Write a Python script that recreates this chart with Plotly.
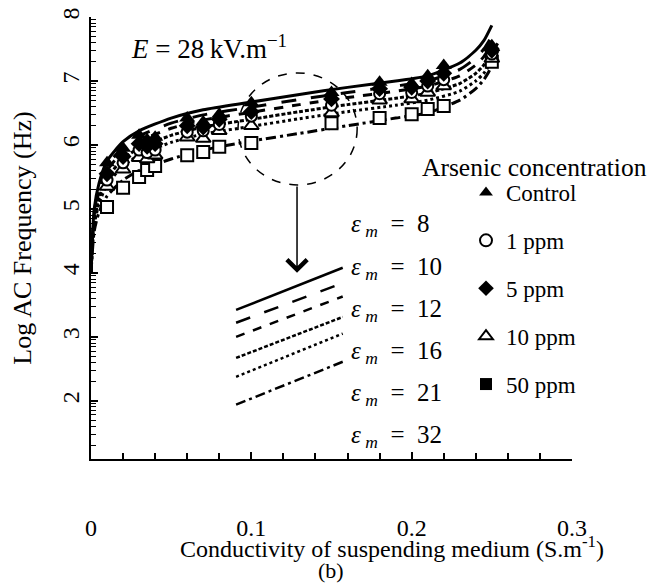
import numpy as np
import plotly.graph_objects as go

# ---------------- data ----------------
# model curves (log10 of crossover frequency) for several medium permittivities
curve_x = [0, 0.002, 0.005, 0.01, 0.02, 0.03, 0.05, 0.07, 0.1, 0.13, 0.16, 0.19, 0.21, 0.23, 0.24, 0.245, 0.25, 0.254]
eps8  = [4.0, 5.0, 5.4, 5.75, 6.05, 6.22, 6.42, 6.55, 6.67, 6.79, 6.90, 7.00, 7.08, 7.28, 7.48, 7.63, 7.87, None]
eps10 = [4.0, 4.95, 5.33, 5.67, 5.97, 6.14, 6.34, 6.47, 6.59, 6.71, 6.82, 6.92, 7.00, 7.18, 7.36, 7.50, 7.70, None]
eps12 = [4.0, 4.9, 5.27, 5.60, 5.90, 6.06, 6.26, 6.39, 6.51, 6.63, 6.74, 6.84, 6.92, 7.08, 7.25, 7.38, 7.58, None]
eps16 = [4.0, 4.82, 5.17, 5.48, 5.78, 5.95, 6.15, 6.28, 6.40, 6.52, 6.63, 6.73, 6.81, 6.96, 7.12, 7.25, 7.45, 7.60]
eps21 = [4.0, 4.75, 5.08, 5.38, 5.67, 5.84, 6.04, 6.17, 6.29, 6.41, 6.52, 6.62, 6.70, 6.84, 7.00, 7.12, 7.32, 7.48]
eps32 = [4.0, 4.65, 4.95, 5.20, 5.45, 5.60, 5.78, 5.92, 6.06, 6.18, 6.30, 6.42, 6.50, 6.70, 6.88, 7.02, 7.22, 7.35]

# measured points (log10 frequency)
meas_x  = [0.01, 0.02, 0.03, 0.035, 0.04, 0.06, 0.07, 0.08, 0.1, 0.15, 0.18, 0.2, 0.21, 0.22, 0.25]
control = [5.72, 5.95, 6.15, 6.08, 6.12, 6.42, 6.36, 6.48, 6.66, 6.82, 6.98, 6.96, 7.08, 7.24, 7.55]
ppm5    = [5.55, 5.82, 6.02, 5.98, 6.02, 6.30, 6.28, 6.40, 6.52, 6.72, 6.88, 6.90, 7.00, 7.12, 7.48]
ppm1    = [5.45, 5.72, 5.92, 5.88, 5.92, 6.20, 6.22, 6.32, 6.45, 6.62, 6.80, 6.82, 6.92, 7.02, 7.42]
ppm10   = [5.35, 5.62, 5.80, 5.78, 5.84, 6.12, 6.10, 6.22, 6.30, 6.50, 6.70, 6.72, 6.82, 6.92, 7.35]
ppm50   = [5.03, 5.33, 5.50, 5.61, 5.67, 5.84, 5.89, 5.97, 6.03, 6.34, 6.42, 6.48, 6.56, 6.61, 7.30]

# magnified inset segments
inset_x = [0.0905, 0.157]
inset8  = [3.42, 4.08]
inset10 = [3.22, 3.84]
inset12 = [3.00, 3.63]
inset16 = [2.67, 3.31]
inset21 = [2.375, 3.05]
inset32 = [1.94, 2.61]

eps_labels = ["8", "10", "12", "16", "21", "32"]
y_ticks = [2, 3, 4, 5, 6, 7, 8]
x_ticks = [0, 0.1, 0.2, 0.3]
x_ticktext = ["0", "0.1", "0.2", "0.3"]

FONT = "Liberation Serif, Times New Roman, serif"

fig = go.Figure()

styles = [
    (eps8, inset8, "solid", 3),
    (eps10, inset10, "longdash", 3),
    (eps12, inset12, "dash", 3),
    (eps16, inset16, "4px,2px", 3),
    (eps21, inset21, "dot", 3),
    (eps32, inset32, "10px,4px,3px,4px", 3),
]
for (cy, iy, dash, w), lab in zip(styles, eps_labels):
    fig.add_trace(go.Scatter(x=curve_x, y=cy, mode="lines", showlegend=False,
                             line=dict(color="black", width=w, dash=dash, shape="spline", smoothing=0.6),
                             name="εm = " + lab))
    fig.add_trace(go.Scatter(x=inset_x, y=iy, mode="lines", showlegend=False,
                             line=dict(color="black", width=2.5, dash=dash), name="inset " + lab))

# measured series
fig.add_trace(go.Scatter(x=meas_x, y=ppm50, mode="markers", name="50 ppm", legendgroup="g50",
                         showlegend=False,
                         marker=dict(symbol="square", size=12, color="white", line=dict(color="black", width=2))))
fig.add_trace(go.Scatter(x=meas_x, y=ppm10, mode="markers", name="10 ppm", legendgroup="g10",
                         marker=dict(symbol="triangle-up", size=13, color="white", line=dict(color="black", width=2))))
fig.add_trace(go.Scatter(x=meas_x, y=ppm1, mode="markers", name="1 ppm", legendgroup="g1",
                         marker=dict(symbol="circle", size=11, color="white", line=dict(color="black", width=2))))
fig.add_trace(go.Scatter(x=meas_x, y=ppm5, mode="markers", name="5 ppm", legendgroup="g5",
                         marker=dict(symbol="diamond", size=13, color="black")))
fig.add_trace(go.Scatter(x=meas_x, y=control, mode="markers", name="Control", legendgroup="gc",
                         marker=dict(symbol="triangle-up", size=14, color="black")))
fig.add_trace(go.Scatter(x=[None], y=[None], mode="markers", name="50 ppm", legendgroup="g50",
                         marker=dict(symbol="square", size=11, color="black")))

# legend ordering
order = {"Control": 1, "1 ppm": 2, "5 ppm": 3, "10 ppm": 4, "50 ppm": 5}
for tr in fig.data:
    if tr.name in order:
        tr.legendrank = order[tr.name]

# dashed circle & arrow
fig.add_shape(type="circle", xref="x", yref="y", x0=0.0917, x1=0.166, y0=5.375, y1=7.125,
              line=dict(color="black", width=1.5, dash="dash"))
fig.add_annotation(x=0.1285, y=4.0, ax=0.1285, ay=5.375, xref="x", yref="y", axref="x", ayref="y",
                   showarrow=True, arrowhead=4, arrowsize=2.6, arrowwidth=1.5, arrowcolor="black", text="")

# eps labels
ys = [0.529, 0.432, 0.337, 0.242, 0.145, 0.050]
for lab, yy in zip(eps_labels, ys):
    fig.add_annotation(x=(349 - 91) / 481, y=yy, xref="paper", yref="paper", xanchor="left", yanchor="middle",
                       showarrow=False, font=dict(family=FONT, size=25, color="black"),
                       text="<i>ε</i><sub> <i>m</i></sub>\u00a0\u00a0=\u00a0\u00a0" + lab)

fig.add_annotation(x=(129 - 91) / 481, y=(459 - 47) / 442, xref="paper", yref="paper", xanchor="left",
                   yanchor="middle", showarrow=False, font=dict(family=FONT, size=27, color="black"),
                   text="<i>E</i> = 28\u2009kV.m<sup>\u22121</sup>")
fig.add_annotation(x=(420 - 91) / 481, y=(459 - 167) / 442, xref="paper", yref="paper", xanchor="left",
                   yanchor="middle", showarrow=False, font=dict(family=FONT, size=25.5, color="black"),
                   text="Arsenic concentration")
fig.add_annotation(x=(178 - 91) / 481, y=(459 - 547) / 442, xref="paper", yref="paper", xanchor="left",
                   yanchor="middle", showarrow=False, font=dict(family=FONT, size=24, color="black"),
                   text="Conductivity of suspending medium (S.m<sup>-1</sup>)")
fig.add_annotation(x=(331 - 91) / 481, y=(459 - 570) / 442, xref="paper", yref="paper", xanchor="center",
                   yanchor="middle", showarrow=False, font=dict(family=FONT, size=22, color="black"),
                   text="(b)")

minor_y = [n + np.log10(k) for n in range(1, 8) for k in range(2, 10)]
minor_y = [float(v) for v in minor_y if v > 1.09]

# the page body adds an 8px offset, so the figure is laid out 8px smaller/left/up
fig.update_layout(
    width=650, height=579,
    margin=dict(l=83, r=86, t=9, b=128),
    paper_bgcolor="white", plot_bgcolor="white",
    font=dict(family=FONT, size=24, color="black"),
    legend=dict(x=(466 - 91) / 481, y=(459 - 171) / 442, xanchor="left", yanchor="top",
                font=dict(family=FONT, size=23, color="black"), tracegroupgap=15,
                bgcolor="rgba(0,0,0,0)", itemsizing="constant", traceorder="grouped"),
    xaxis=dict(range=[0, 0.3], tickvals=x_ticks, ticktext=x_ticktext, ticks="inside", ticklen=7,
               tickwidth=1.5, tickcolor="black", showline=True, linewidth=2, linecolor="black",
               showgrid=False, zeroline=False, ticklabelstandoff=46, automargin=False,
               ticklabeloverflow="allow",
               tickfont=dict(family=FONT, size=24, color="black"),
               minor=dict(dtick=0.02, tick0=0, ticks="inside", ticklen=6, tickwidth=1.5, tickcolor="black")),
    yaxis=dict(range=[1.09, 8], tickvals=y_ticks, ticks="inside", ticklen=7, tickwidth=1.5,
               tickcolor="black", showline=True, linewidth=2, linecolor="black", showgrid=False,
               zeroline=False, tickangle=-90, automargin=False, ticklabeloverflow="allow",
               tickfont=dict(family=FONT, size=24, color="black"),
               title=dict(text="Log AC Frequency (Hz)", font=dict(family=FONT, size=26, color="black"), standoff=24),
               minor=dict(tickmode="array", tickvals=minor_y, ticks="inside", ticklen=5, tickwidth=1.2,
                          tickcolor="black")),
)

fig.write_html("out.html")
